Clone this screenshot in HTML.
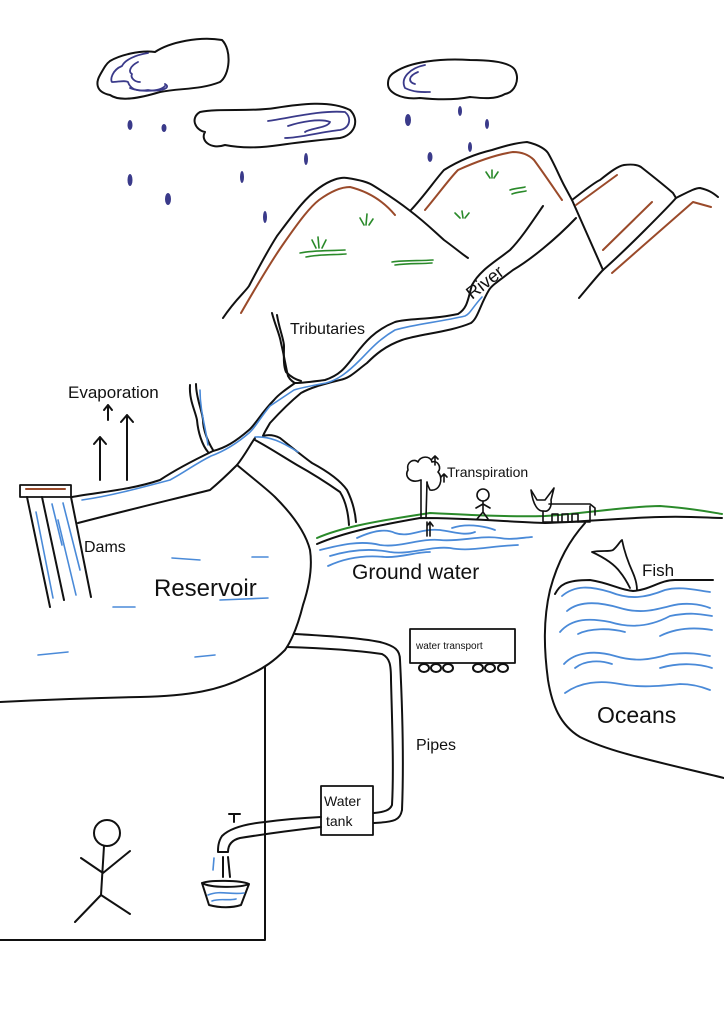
<!DOCTYPE html>
<html><head><meta charset="utf-8"><style>
html,body{margin:0;padding:0;background:#fff;}
svg{display:block}
text{font-family:"Liberation Sans",sans-serif;fill:#111;}
</style></head><body>
<svg width="724" height="1024" viewBox="0 0 724 1024" xmlns="http://www.w3.org/2000/svg">
<g fill="none" stroke-linecap="round" stroke-linejoin="round">
<!-- clouds -->
<g stroke="#111" stroke-width="2">
<path d="M110,61 C120,55 140,50 155,52 C170,42 200,36 222,40 C232,50 230,75 220,82 C200,90 180,88 160,92 C140,98 120,102 110,95 C95,92 96,82 100,75 C104,68 106,64 110,61Z"/>
<path d="M200,112 C220,108 250,112 275,108 C300,104 330,100 350,110 C360,120 355,135 340,138 C320,140 300,142 280,145 C260,148 240,148 225,145 C210,150 200,140 205,132 C195,130 190,118 200,112Z"/>
<path d="M395,72 C410,62 440,58 470,60 C490,60 510,62 515,70 C520,80 515,92 505,94 C495,100 480,98 470,97 C455,100 440,100 420,98 C400,100 388,92 388,84 C388,78 390,75 395,72Z"/>
</g>
<g stroke="#3a3a8a" stroke-width="1.8">
<path d="M148,53 C135,55 125,60 122,66 C112,70 110,80 112,82 C118,82 125,80 128,82 C130,88 135,92 148,90 C160,92 172,88 165,84"/>
<path d="M138,62 C130,66 128,72 132,74 C130,78 135,82 140,82"/>
<path d="M130,88 C140,92 160,92 165,86"/>
<path d="M268,121 C290,118 320,110 345,112 C352,118 350,128 340,130 C320,132 300,138 285,138"/>
<path d="M288,126 C300,122 320,118 330,122 C328,128 310,128 305,132"/>
<path d="M425,65 C410,68 400,78 405,88 C415,93 425,92 430,92"/>
<path d="M418,72 C408,76 408,82 415,84"/>
</g>
<!-- rain drops -->
<g fill="#3a3a8a" stroke="none">
<ellipse cx="130" cy="125" rx="2.5" ry="5"/><ellipse cx="164" cy="128" rx="2.5" ry="4"/>
<ellipse cx="130" cy="180" rx="2.5" ry="6"/><ellipse cx="168" cy="199" rx="3" ry="6"/>
<ellipse cx="242" cy="177" rx="2" ry="6"/><ellipse cx="265" cy="217" rx="2" ry="6"/>
<ellipse cx="306" cy="159" rx="2" ry="6"/><ellipse cx="408" cy="120" rx="3" ry="6"/>
<ellipse cx="460" cy="111" rx="2" ry="5"/><ellipse cx="487" cy="124" rx="2" ry="5"/>
<ellipse cx="430" cy="157" rx="2.5" ry="5"/><ellipse cx="470" cy="147" rx="2" ry="5"/>
</g>
<!-- mountains -->
<g stroke="#111" stroke-width="2">
<path d="M223,318 C235,300 245,292 249,286 C260,265 268,250 277,236 C295,212 305,198 319,188 C330,180 340,177 347,178 C360,180 368,182 374,186 C390,196 400,203 409,210 C425,222 435,232 444,240 C455,248 462,254 468,258"/>
<path d="M411,210 C425,195 435,180 444,170 C460,160 475,154 492,150 C505,146 515,143 527,142 C540,145 546,150 548,153 C555,165 560,178 565,187 L572,200 L603,270"/>
<path d="M572,200 C585,190 595,182 600,180 C610,172 618,166 624,165 C632,164 638,165 641,167 C655,178 665,186 673,193 L676,198 C688,192 695,188 700,188 C708,190 712,192 718,197"/>
<path d="M579,298 C590,285 598,275 603,270 C620,255 635,240 645,230 C660,215 670,205 676,198"/>
</g>
<g stroke="#9a4a2a" stroke-width="2">
<path d="M241,313 C260,280 272,260 284,243 C300,220 310,207 319,200 C330,192 340,187 350,187 C370,192 385,203 395,215"/>
<path d="M425,210 C440,192 450,178 458,170 C480,160 500,154 513,152 C524,152 530,156 534,160 C545,175 555,190 562,200"/>
<path d="M576,205 L617,175"/><path d="M603,250 L652,202"/>
<path d="M612,273 L693,202 L711,207"/>
</g>
<g stroke="#2a8a2a" stroke-width="1.6">
<path d="M300,253 C315,250 330,251 345,250"/><path d="M306,257 C320,254 335,255 346,254"/>
<path d="M312,240 L316,248 M318,237 L319,248 M326,240 L322,248"/>
<path d="M360,218 L364,225 M367,214 L366,225 M373,219 L369,225"/>
<path d="M392,262 C405,260 420,261 433,260"/><path d="M395,265 C410,263 420,264 432,263"/>
<path d="M455,213 L460,218 M462,211 L463,218 M469,213 L465,218"/>
<path d="M486,172 L490,178 M492,170 L492,178 M498,172 L494,178"/>
<path d="M510,190 C515,188 522,188 525,187"/><path d="M512,194 C517,192 522,192 526,191"/>
</g>
<!-- river -->
<g stroke="#111" stroke-width="2">
<path d="M543,206 C530,225 520,240 510,250 C495,262 480,270 472,285 C468,298 468,308 458,314 C430,320 410,318 395,322 C375,330 365,342 355,355 C345,368 340,375 325,380 C310,382 300,383 295,383 C285,390 278,395 274,400 C262,412 255,425 249,430 C235,442 225,448 213,451 C190,462 175,470 160,480 C130,490 100,492 72,497"/>
<path d="M576,218 C555,240 530,260 513,270 C500,280 492,285 489,290 C480,305 478,318 471,323 C450,332 420,334 402,340 C385,346 375,355 367,363 C355,372 350,378 340,380 C320,385 310,388 301,393 C290,402 280,412 270,423 C266,430 264,433 263,436"/>
<path d="M78,523 C120,512 170,500 210,490 C222,480 230,472 237,465 C245,455 250,445 255,438"/>
<path d="M263,436 C270,434 276,436 280,438 C295,450 305,458 312,463 C325,470 340,480 347,490 C352,500 355,510 356,522"/>
<path d="M255,440 C270,448 285,458 297,465 C315,475 330,485 340,492 C345,500 348,510 349,525"/>
<path d="M272,313 C275,325 280,335 281,343 C284,355 286,368 288,376 C290,380 293,382 295,383"/>
<path d="M277,315 C279,328 284,340 284,346 C284,355 283,365 286,372 C292,378 297,380 301,381"/>
<path d="M190,385 C189,400 195,410 197,420 C198,432 202,445 208,452"/>
<path d="M196,384 C196,398 202,410 203,420 C203,430 208,442 213,450"/>
</g>
<g stroke="#4a8ad8" stroke-width="1.6">
<path d="M482,297 C472,308 470,314 465,316 C440,322 415,324 395,330 C378,340 370,350 360,360 C348,372 338,380 326,383 C310,386 300,388 294,390 C285,396 276,402 270,406 C260,418 255,428 249,433 C235,445 222,452 211,456 C195,464 185,472 170,480 C140,488 110,496 82,500"/>
<path d="M200,390 C200,410 205,425 208,445"/>
<path d="M255,437 C270,436 282,442 298,452"/>
</g>
<!-- reservoir -->
<g stroke="#111" stroke-width="2">
<path d="M237,465 C255,480 268,490 275,497 C290,512 305,530 310,550 C313,570 308,590 303,605 C298,625 292,640 285,650 C275,660 265,668 245,677 C220,690 190,696 140,697 C90,698 40,700 0,702"/>
<rect x="20" y="485" width="51" height="12" stroke-width="1.8"/>
<path d="M27,497 L50,607 M42,497 L64,600 M71,497 L91,597"/>
</g>
<path d="M26,489 L65,489" stroke="#9a4a2a" stroke-width="2"/>
<g stroke="#4a8ad8" stroke-width="1.6">
<path d="M36,512 L53,598 M52,504 L62,545 M58,520 L76,595 M63,503 L80,570"/>
<path d="M172,558 L200,560 M252,557 L268,557 M113,607 L135,607 M220,600 L268,598 M38,655 L68,652 M195,657 L215,655"/>
</g>
<!-- evaporation arrows -->
<g stroke="#111" stroke-width="2">
<path d="M100,480 L100,437 M94,444 L100,437 L106,444"/>
<path d="M127,480 L127,415 M121,422 L127,415 L133,422"/>
<path d="M108,420 L108,405 M104,410 L108,405 L112,410"/>
</g>
<!-- ground -->
<path d="M317,538 C340,528 370,522 430,513 C470,515 510,517 545,516 C580,514 630,506 660,506 C690,508 710,512 722,514" stroke="#2a8a2a" stroke-width="2"/>
<path d="M317,544 C345,532 380,525 420,518 C470,518 510,522 545,523 C580,522 620,518 660,517 C690,516 710,518 722,518" stroke="#111" stroke-width="2"/>
<g stroke="#4a8ad8" stroke-width="1.8">
<path d="M357,538 C370,532 385,528 395,533 C410,538 420,528 440,530 C455,532 465,536 475,532"/>
<path d="M452,528 C470,522 490,528 495,530"/>
<path d="M320,550 C340,545 360,540 380,545 C400,548 420,538 440,540 C460,542 480,535 500,538 C510,540 520,538 532,537"/>
<path d="M330,556 C350,550 370,548 390,552 C410,555 430,546 450,548 C470,552 490,546 518,545"/>
<path d="M328,566 C345,558 365,555 385,557 C400,558 415,552 430,552"/>
</g>
<!-- tree -->
<g stroke="#111" stroke-width="1.6">
<path d="M421,518 L421,480 M426,518 L427,482"/>
<path d="M421,480 C410,484 404,476 408,470 C406,462 414,458 418,462 C420,456 430,455 432,462 C438,460 442,468 438,472 C444,478 440,492 430,490 C428,486 427,484 427,482"/>
<path d="M430,536 L430,522 M427,526 L430,522 L433,526 M427,536 L427,522"/>
<path d="M435,465 L435,456 M432,459 L435,456 L438,459 M444,482 L444,474 M441,477 L444,474 L447,477"/>
<!-- person -->
<circle cx="483" cy="495" r="6"/>
<path d="M483,501 L483,512 M476,508 L483,504 L490,508 M477,519 L483,512 L488,519"/>
<!-- dog -->
<path d="M531,490 L537,500 L545,500 L554,488 L551,500 C552,508 548,512 544,511 C538,512 533,505 531,490"/>
<path d="M549,504 L590,504 L595,508 L595,515 M543,511 L543,522 L590,522 L590,506"/>
<path d="M552,522 L552,514 L558,514 L558,522 M562,522 L562,514 L568,514 L568,522 M572,522 L572,514 L578,514 L578,522"/>
</g>
<!-- ocean -->
<path d="M585,523 C570,540 558,560 550,590 C543,620 544,650 548,680 C552,705 560,725 580,737 C610,752 650,760 724,778" stroke="#111" stroke-width="2"/>
<path d="M555,594 C560,585 565,580 590,580 C610,583 620,590 633,591 C650,590 660,580 675,580 C690,580 700,580 713,580" stroke="#111" stroke-width="2"/>
<path d="M592,552 C600,550 610,552 613,550 C618,546 620,541 622,540 C624,550 628,562 633,573 C636,580 637,585 637,590 M592,552 C605,558 615,565 620,572 C625,578 628,584 630,588" stroke="#111" stroke-width="1.8"/>
<g stroke="#4a8ad8" stroke-width="1.8">
<path d="M562,596 C575,585 590,586 610,592 C630,600 645,598 665,590 C680,586 695,590 710,592"/>
<path d="M567,611 C580,600 600,602 620,608 C640,614 655,610 670,606 C685,602 700,604 710,608"/>
<path d="M560,632 C572,618 590,618 610,622 C635,630 655,624 670,616 C690,612 700,614 712,616"/>
<path d="M578,634 C590,628 610,628 625,632"/><path d="M660,636 C680,626 700,628 712,630"/>
<path d="M564,664 C575,652 595,650 615,656 C635,662 650,660 670,654 C690,652 700,654 710,656"/>
<path d="M575,668 C585,660 600,660 612,664"/><path d="M660,668 C680,662 700,664 712,668"/>
<path d="M565,693 C580,682 600,680 620,684 C640,688 660,686 680,684 C695,684 705,688 710,690"/>
</g>
<!-- pipes, tank, house -->
<g stroke="#111" stroke-width="2">
<path d="M295,634 C330,636 360,638 380,642 C395,646 400,650 400,660 C402,700 404,760 402,810 C400,820 395,822 374,823"/>
<path d="M287,647 C320,648 355,650 382,654 C390,658 391,665 391,680 C392,720 394,770 392,805 C390,810 385,812 374,813"/>
<rect x="321" y="786" width="52" height="49" stroke-width="1.8"/>
<path d="M265,667 L265,940 L0,940"/>
<path d="M321,817 C300,818 280,820 265,822 C245,824 230,828 222,836 C218,842 218,848 218,852 L228,852 C228,845 232,840 240,838 C265,834 295,830 321,827"/>
<path d="M234,822 L234,815 M229,814 L240,814"/>
<path d="M202,883 C210,880 240,880 249,884 C240,888 210,888 202,883 Z M202,883 L209,905 C220,908 232,908 241,905 L249,884"/>
<path d="M223,857 L223,877 M228,857 L230,877"/>
<rect x="410" y="629" width="105" height="34" stroke-width="1.8"/>
<ellipse cx="424" cy="668" rx="5" ry="4"/><ellipse cx="436" cy="668" rx="5" ry="4"/><ellipse cx="448" cy="668" rx="5" ry="4"/>
<ellipse cx="478" cy="668" rx="5" ry="4"/><ellipse cx="490" cy="668" rx="5" ry="4"/><ellipse cx="503" cy="668" rx="5" ry="4"/>
<circle cx="107" cy="833" r="13"/>
<path d="M104,846 L101,895 M81,858 L103,873 L130,851 M75,922 L101,895 L130,914"/>
</g>
<g stroke="#4a8ad8" stroke-width="1.6">
<path d="M214,858 L213,870 M208,895 C220,890 230,895 244,893 M212,901 C220,898 228,901 236,899"/>
</g>
</g>
<!-- labels -->
<text x="68" y="398" font-size="17">Evaporation</text>
<text x="290" y="334" font-size="16">Tributaries</text>
<text x="472" y="300" font-size="18" transform="rotate(-38 472 300)">River</text>
<text x="84" y="552" font-size="16">Dams</text>
<text x="154" y="596" font-size="24">Reservoir</text>
<text x="447" y="477" font-size="14">Transpiration</text>
<text x="352" y="579" font-size="21">Ground water</text>
<text x="642" y="576" font-size="17">Fish</text>
<text x="597" y="723" font-size="23">Oceans</text>
<text x="416" y="649" font-size="10">water transport</text>
<text x="416" y="750" font-size="16">Pipes</text>
<text x="324" y="806" font-size="14">Water</text>
<text x="326" y="826" font-size="14">tank</text>
</svg>
</body></html>
